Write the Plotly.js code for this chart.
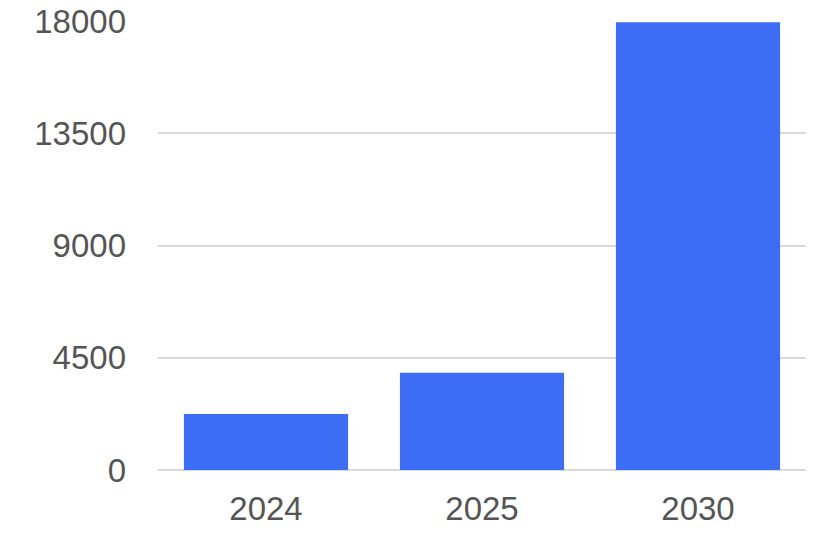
<!DOCTYPE html>
<html>
<head>
<meta charset="utf-8">
<script src="https://cdn.plot.ly/plotly-3.0.1.min.js"></script>
<style>html,body{margin:0;padding:0;background:#fff;}#chart{width:816px;height:540px;}</style>
</head>
<body>
<div id="chart"></div>
<script>
const categories = ["2024", "2025", "2030"];
const values = [2240, 3900, 17950];
const yTickVals = [0, 4500, 9000, 13500, 18000];
const yTickText = ["0", "4500", "9000", "13500", "18000"];

const trace = {
  type: "bar",
  x: categories,
  y: values,
  marker: {color: "#3D6CF5"},
  hoverinfo: "x+y"
};

const layout = {
  width: 816,
  height: 540,
  margin: {l: 158, r: 10, t: 21, b: 70, pad: 0},
  paper_bgcolor: "#ffffff",
  plot_bgcolor: "#ffffff",
  showlegend: false,
  bargap: 0.24,
  font: {family: "Liberation Sans, Arial, sans-serif", size: 33, color: "#555555"},
  xaxis: {
    type: "category",
    showgrid: false,
    showline: false,
    zeroline: false,
    ticks: "",
    ticklabelstandoff: 16,
    tickfont: {size: 33, color: "#555555"}
  },
  yaxis: {
    range: [0, 18000],
    tickmode: "array",
    tickvals: yTickVals,
    ticktext: yTickText,
    showgrid: true,
    gridcolor: "#d9d9d9",
    gridwidth: 2,
    zeroline: true,
    zerolinecolor: "#d9d9d9",
    zerolinewidth: 2,
    showline: false,
    ticks: "",
    ticklabelstandoff: 31,
    tickfont: {size: 33, color: "#555555"}
  }
};

Plotly.newPlot("chart", [trace], layout, {displayModeBar: false, staticPlot: true});
</script>
</body>
</html>
